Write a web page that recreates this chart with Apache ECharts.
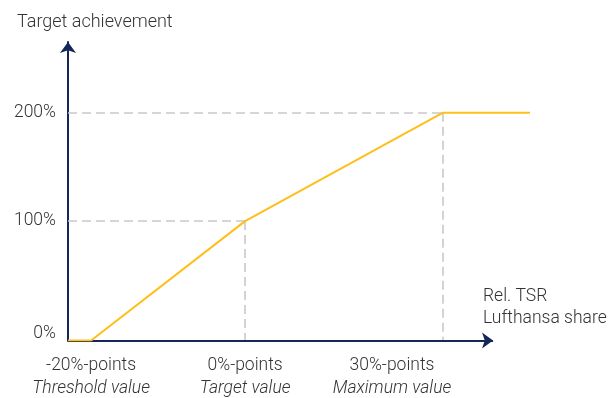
<!DOCTYPE html>
<html>
<head>
<meta charset="utf-8">
<script src="https://cdn.jsdelivr.net/npm/echarts@6/dist/echarts.min.js"></script>
<style>html,body{margin:0;padding:0;background:#fff;}#c{width:612px;height:398px;}</style>
</head>
<body>
<div id="c"></div>
<script>
// ---- data ----
var tsrValues = [-23, -20, 0, 30, 41.3];          // relative TSR (%-points)
var achievementValues = [0, 0, 100, 200, 200];   // target achievement (%)
var xTickValues = [-20, 0, 30];
var xTickLabels = ['-20%-points', '0%-points', '30%-points'];
var xTickSubLabels = ['Threshold value', 'Target value', 'Maximum value'];
var yTickValues = [0, 100, 200];
var yTickLabels = ['0%', '100%', '200%'];
var xMin = -23, xMax = 41.3, xAxisEnd = 36.5;
var yMin = 0, yMax = 259.2;

var navy = '#14265a';
var yellow = '#ffbf1a';
var grey = '#c9c9c9';
var txt = '#333333';
var font = 'Roboto';
var fs = 17.5;
var fw = 300;

var chart = echarts.init(document.getElementById('c'), null, {renderer: 'canvas'});

var lineData = tsrValues.map(function (x, i) { return [x, achievementValues[i]]; });

var richX = {
  a: {fontFamily: font, fontSize: fs, fontWeight: fw, color: txt, lineHeight: 23},
  b: {fontFamily: font, fontSize: fs, fontWeight: fw, color: txt, fontStyle: 'italic', lineHeight: 23},
  a2: {fontFamily: font, fontSize: fs, fontWeight: fw, color: txt, lineHeight: 23, padding: [0, 102, 0, 0]},
  b2: {fontFamily: font, fontSize: fs, fontWeight: fw, color: txt, fontStyle: 'italic', lineHeight: 23, padding: [0, 102, 0, 0]}
};

var option = {
  animation: false,
  title: [
    {text: 'Target achievement', left: 12, top: 8,
     textStyle: {fontFamily: font, fontSize: 18, fontWeight: fw, color: txt}},
    {text: 'Rel. TSR\nLufthansa share', left: 478, top: 281,
     textStyle: {fontFamily: font, fontSize: fs, fontWeight: fw, color: txt, lineHeight: 22}}
  ],
  grid: {left: 68, right: 82, top: 42, bottom: 56, containLabel: false},
  xAxis: {
    type: 'value', min: xMin, max: xMax,
    breaks: [{start: 10, end: 14.3, gap: 0}],
    breakArea: {show: false, zigzagAmplitude: 0, itemStyle: {opacity: 0, borderWidth: 0}},
    axisLine: {show: false, onZero: false},
    axisTick: {show: false},
    splitLine: {show: false},
    axisLabel: {
      customValues: xTickValues,
      margin: 14,
      formatter: function (v) {
        var i = xTickValues.indexOf(v);
        if (i < 0) return '';
        if (i === 2) return '{a2|' + xTickLabels[i] + '}\n{b2|' + xTickSubLabels[i] + '}';
        return '{a|' + xTickLabels[i] + '}\n{b|' + xTickSubLabels[i] + '}';
      },
      rich: richX
    }
  },
  yAxis: {
    type: 'value', min: yMin, max: yMax,
    breaks: [{start: 140, end: 149.2, gap: 0}],
    breakArea: {show: false, zigzagAmplitude: 0, itemStyle: {opacity: 0, borderWidth: 0}},
    axisLine: {show: true, onZero: false, symbol: ['none', 'arrow'], symbolSize: [12, 11],
               lineStyle: {color: navy, width: 2}},
    axisTick: {show: false},
    splitLine: {show: false},
    axisLabel: {
      customValues: yTickValues,
      margin: 12,
      formatter: function (v) {
        var i = yTickValues.indexOf(v);
        if (i < 0) return '';
        if (v === 0) return '{z|' + yTickLabels[i] + '}';
        return '{n|' + yTickLabels[i] + '}';
      },
      rich: {
        z: {fontFamily: font, fontSize: fs, fontWeight: fw, color: txt, padding: [0, 0, 14, 0]},
        n: {fontFamily: font, fontSize: fs, fontWeight: fw, color: txt}
      }
    }
  },
  series: [
    {
      type: 'line', data: [], silent: true, z: 1,
      markLine: {
        silent: true, symbol: ['none', 'none'], animation: false,
        label: {show: false},
        lineStyle: {color: grey, width: 1.6, type: [9, 5]},
        data: [
          [{coord: [xMin, achievementValues[2]]}, {coord: [tsrValues[2], achievementValues[2]]}],
          [{coord: [tsrValues[2], achievementValues[2]]}, {coord: [tsrValues[2], yMin]}],
          [{coord: [xMin, achievementValues[3]]}, {coord: [tsrValues[3], achievementValues[3]]}],
          [{coord: [tsrValues[3], achievementValues[3]]}, {coord: [tsrValues[3], yMin]}]
        ]
      }
    },
    {
      type: 'line', data: [], silent: true, z: 2,
      markLine: {
        silent: true, symbol: ['none', 'arrow'], symbolSize: [12, 11], animation: false,
        label: {show: false},
        lineStyle: {color: navy, width: 2, type: 'solid'},
        data: [[{coord: [xMin, yMin]}, {coord: [xAxisEnd, yMin]}]]
      }
    },
    {
      type: 'line', data: lineData, symbol: 'none', z: 5,
      lineStyle: {color: yellow, width: 2},
      itemStyle: {color: yellow}
    }
  ]
};
chart.setOption(option);
</script>
</body>
</html>
